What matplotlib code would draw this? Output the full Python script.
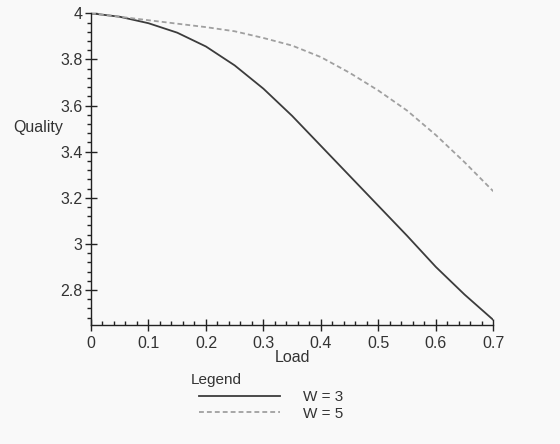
import matplotlib
matplotlib.use("Agg")
import matplotlib.pyplot as plt
from matplotlib.ticker import MultipleLocator

plt.rcParams['font.family'] = ['Liberation Sans', 'DejaVu Sans']
plt.rcParams['lines.scale_dashes'] = False

load = [0, 0.05, 0.1, 0.15, 0.2, 0.25, 0.3, 0.35, 0.4, 0.45, 0.5, 0.55, 0.6, 0.65, 0.7]
quality_w3 = [4.0, 3.985, 3.957, 3.916, 3.856, 3.774, 3.673, 3.555, 3.425, 3.295,
              3.165, 3.035, 2.90, 2.78, 2.67]
quality_w5 = [4.0, 3.985, 3.97, 3.955, 3.94, 3.922, 3.893, 3.86, 3.81, 3.742,
              3.665, 3.578, 3.472, 3.354, 3.228]
labels = ["W = 3", "W = 5"]

bg = '#f9f9f9'
txt = '#333333'
fig = plt.figure(figsize=(5.6, 4.44), dpi=100, facecolor=bg)
ax = fig.add_axes([91/560, 1-325/444, (493.3-91)/560, (325-13.3)/444])
ax.set_facecolor(bg)

ax.plot(load, quality_w3, color='#3c3c3c', lw=1.3, label=labels[0])
ax.plot(load, quality_w5, color='#a0a0a0', lw=1.3, dashes=(3.5, 2.2), label=labels[1])

ax.set_xlim(0, 0.7)
ax.set_ylim(2.648, 4.0)
ax.spines['top'].set_visible(False)
ax.spines['right'].set_visible(False)
for s in ['left', 'bottom']:
    ax.spines[s].set_linewidth(1.0)
    ax.spines[s].set_color('#222222')

ax.xaxis.set_minor_locator(MultipleLocator(0.02))
ax.yaxis.set_minor_locator(MultipleLocator(0.04))
ax.set_xticks([0, 0.1, 0.2, 0.3, 0.4, 0.5, 0.6, 0.7])
ax.set_xticklabels(['0', '0.1', '0.2', '0.3', '0.4', '0.5', '0.6', '0.7'])
ax.set_yticks([2.8, 3.0, 3.2, 3.4, 3.6, 3.8, 4.0])
ax.set_yticklabels(['2.8', '3', '3.2', '3.4', '3.6', '3.8', '4'])
ax.tick_params(axis='x', which='major', direction='inout', length=8, width=1, labelsize=11.5,
               colors='#222222', labelcolor=txt, pad=4)
ax.tick_params(axis='x', which='minor', direction='in', length=3, width=1, colors='#222222')
ax.tick_params(axis='y', which='major', direction='inout', length=8, width=1, labelsize=11.5,
               colors='#222222', labelcolor=txt, pad=2)
ax.tick_params(axis='y', which='minor', direction='out', length=3, width=1, colors='#222222')

fig.text(38/560, 1-127/444, 'Quality', ha='center', va='center', fontsize=11.5, color=txt)
fig.text(292/560, 1-357/444, 'Load', ha='center', va='center', fontsize=11.5, color=txt)
fig.text(191/560, 1-380/444, 'Legend', ha='left', va='center', fontsize=11, color=txt)

leg = ax.legend(loc='upper left', bbox_to_anchor=(199/560, 1-390/444),
                bbox_transform=fig.transFigure, frameon=False, fontsize=11,
                handlelength=5.3, handletextpad=1.5,
                labelspacing=0.18, borderpad=0, borderaxespad=0)
for t in leg.get_texts():
    t.set_color(txt)

fig.savefig('out.png', dpi=100, facecolor=bg)
